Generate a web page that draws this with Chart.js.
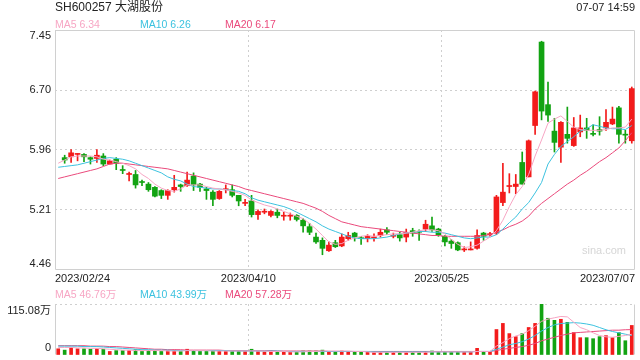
<!DOCTYPE html>
<html>
<head>
<meta charset="utf-8">
<title>SH600257 大湖股份</title>
<script src="https://cdn.jsdelivr.net/npm/chart.js@4.4.0/dist/chart.umd.min.js"></script>
<style>
  body { margin: 0; background: #fff; }
  #wrap { position: relative; width: 640px; height: 360px; overflow: hidden;
          font-family: "Liberation Sans", Arial, "Noto Sans CJK SC", sans-serif; }
  #wrap canvas { position: absolute; left: 0; }
  .txt { position: absolute; white-space: nowrap; line-height: 14px; }
  .leg { font-size: 10.5px; }
</style>
</head>
<body>
<div id="wrap">
  <canvas id="kline" width="640" height="290" style="top:0"></canvas>
  <canvas id="vol" width="640" height="70" style="top:290px"></canvas>

  <div class="txt" style="left:55px;top:0;font-size:12px;line-height:15px;color:#222">SH600257 大湖股份</div>
  <div class="txt" style="right:5px;top:0;font-size:11px;color:#222">07-07 14:59</div>

  <div class="txt leg" id="legMa5" style="left:55px;top:17px"></div>
  <div class="txt leg" id="legMa10" style="left:140px;top:17px"></div>
  <div class="txt leg" id="legMa20" style="left:225px;top:17px"></div>

  <div class="txt leg" id="legVol5" style="left:55px;top:287px"></div>
  <div class="txt leg" id="legVol10" style="left:140px;top:287px"></div>
  <div class="txt leg" id="legVol20" style="left:225px;top:287px"></div>

  <div class="txt" style="left:582px;top:243px;font-size:11px;color:#d6d6d6">sina.com</div>
</div>

<script>
// trading days shown on the chart
const dates = [
  '2023/02/24','2023/02/27','2023/02/28','2023/03/01','2023/03/02','2023/03/03',
  '2023/03/06','2023/03/07','2023/03/08','2023/03/09','2023/03/10',
  '2023/03/13','2023/03/14','2023/03/15','2023/03/16','2023/03/17',
  '2023/03/20','2023/03/21','2023/03/22','2023/03/23','2023/03/24',
  '2023/03/27','2023/03/28','2023/03/29','2023/03/30','2023/03/31',
  '2023/04/03','2023/04/04','2023/04/06','2023/04/07',
  '2023/04/10','2023/04/11','2023/04/12','2023/04/13','2023/04/14',
  '2023/04/17','2023/04/18','2023/04/19','2023/04/20','2023/04/21',
  '2023/04/24','2023/04/25','2023/04/26','2023/04/27','2023/04/28',
  '2023/05/04','2023/05/05',
  '2023/05/08','2023/05/09','2023/05/10','2023/05/11','2023/05/12',
  '2023/05/15','2023/05/16','2023/05/17','2023/05/18','2023/05/19',
  '2023/05/22','2023/05/23','2023/05/24','2023/05/25','2023/05/26',
  '2023/05/29','2023/05/30','2023/05/31','2023/06/01','2023/06/02',
  '2023/06/05','2023/06/06','2023/06/07','2023/06/08','2023/06/09',
  '2023/06/12','2023/06/13','2023/06/14','2023/06/15','2023/06/16',
  '2023/06/19','2023/06/20','2023/06/21',
  '2023/06/26','2023/06/27','2023/06/28','2023/06/29','2023/06/30',
  '2023/07/03','2023/07/04','2023/07/05','2023/07/06','2023/07/07'
];

// daily candles (first day is cut off in the original, so no candle there)
const openP = [null,5.86,5.87,5.90,5.90,5.86,5.85,5.88,5.78,5.84, 5.71,5.65,5.65,5.56,5.53,5.49,5.45,5.39,5.46,5.52,
  5.51,5.63,5.53,5.47,5.43,5.35,5.46,5.46,5.39,5.29, 5.32,5.15,5.18,5.14,5.18,5.13,5.13,5.14,5.08,5.00,
  4.87,4.83,4.70,4.80,4.76,4.85,4.92,4.86,4.85,4.86, 4.89,4.96,4.88,4.90,4.87,4.95,4.94,4.97,5.01,4.97,
  4.88,4.82,4.80,4.71,4.71,4.73,4.92,4.90,4.92,5.30, 5.50,5.50,5.80,5.62,6.26,7.30,6.52,6.19,5.99,6.15,
  6.01,6.18,6.23,6.16,6.21,6.23,6.28,6.48,6.15,6.07];
const highP = [null,5.89,5.96,5.91,5.91,5.87,5.96,5.91,5.83,5.86, 5.76,5.68,5.70,5.58,5.55,5.50,5.46,5.46,5.64,5.53,
  5.68,5.67,5.54,5.49,5.45,5.45,5.52,5.52,5.39,5.34, 5.39,5.21,5.22,5.20,5.22,5.18,5.17,5.15,5.10,5.04,
  4.92,4.86,4.81,4.83,4.91,4.93,4.93,4.88,4.90,4.91, 4.97,4.99,4.92,4.93,4.97,4.98,4.96,5.08,5.12,4.98,
  4.89,4.84,4.81,4.75,4.81,4.96,4.93,4.93,5.39,5.79, 5.66,5.65,5.93,6.08,6.69,7.31,6.80,6.35,6.31,6.49,
  6.36,6.39,6.35,6.27,6.37,6.46,6.49,6.50,6.20,6.74];
const lowP = [null,5.79,5.80,5.82,5.81,5.78,5.80,5.76,5.78,5.71, 5.66,5.57,5.48,5.51,5.44,5.37,5.35,5.34,5.43,5.44,
  5.50,5.45,5.44,5.34,5.26,5.34,5.42,5.37,5.26,5.26, 5.12,5.09,5.16,5.12,5.11,5.08,5.08,5.07,4.93,4.90,
  4.79,4.65,4.69,4.74,4.75,4.83,4.82,4.78,4.81,4.82, 4.87,4.90,4.86,4.82,4.81,4.88,4.83,4.94,4.94,4.88,
  4.76,4.73,4.70,4.69,4.71,4.72,4.83,4.88,4.90,5.26, 5.42,5.41,5.53,5.62,6.15,6.33,6.31,5.93,5.80,6.04,
  6.00,6.12,6.10,6.13,6.14,6.20,6.27,6.04,6.04,6.04];
const closeP = [null,5.83,5.92,5.90,5.87,5.84,5.89,5.78,5.82,5.79, 5.70,5.65,5.52,5.55,5.46,5.38,5.39,5.45,5.49,5.50,
  5.58,5.52,5.49,5.45,5.34,5.44,5.47,5.39,5.32,5.30, 5.15,5.19,5.18,5.19,5.14,5.14,5.14,5.09,5.01,4.93,
  4.81,4.73,4.77,4.75,4.87,4.89,4.87,4.85,4.88,4.87, 4.93,4.93,4.89,4.86,4.93,4.92,4.93,5.03,4.96,4.90,
  4.81,4.79,4.71,4.72,4.72,4.89,4.88,4.91,5.37,5.43, 5.51,5.53,5.53,6.07,6.68,6.44,6.39,6.05,6.30,6.10,
  6.23,6.23,6.20,6.15,6.19,6.30,6.34,6.15,6.14,6.72];

// price moving averages
const ma5 = [5.79,5.83,5.87,5.88,5.88,5.88,5.87,5.84,5.83,5.81, 5.79,5.76,5.72,5.65,5.60,5.53,5.48,5.45,5.44,5.47,
  5.52,5.52,5.52,5.50,5.48,5.47,5.46,5.44,5.42,5.39, 5.33,5.30,5.27,5.25,5.22,5.19,5.16,5.13,5.10,5.04,
  4.97,4.89,4.81,4.78,4.79,4.83,4.86,4.88,4.89,4.88, 4.89,4.90,4.91,4.91,4.92,4.93,4.95,4.96,4.96,4.95,
  4.91,4.84,4.78,4.74,4.75,4.77,4.82,4.87,4.95,5.08, 5.25,5.40,5.50,5.65,5.88,6.08,6.29,6.34,6.38,6.31,
  6.24,6.21,6.20,6.20,6.20,6.21,6.23,6.23,6.24,6.34];
const ma10 = [5.74,5.75,5.76,5.77,5.79,5.81,5.83,5.85,5.86,5.85, 5.84,5.82,5.79,5.76,5.73,5.70,5.67,5.62,5.59,5.57,
  5.53,5.50,5.49,5.48,5.47,5.47,5.46,5.45,5.44,5.41, 5.36,5.33,5.31,5.29,5.27,5.25,5.22,5.18,5.14,5.10,
  5.06,5.01,4.97,4.94,4.91,4.88,4.86,4.85,4.85,4.85, 4.86,4.87,4.89,4.91,4.92,4.93,4.94,4.94,4.93,4.93,
  4.92,4.90,4.88,4.86,4.85,4.86,4.87,4.87,4.90,4.97, 5.05,5.12,5.22,5.30,5.42,5.55,5.78,5.90,6.00,6.06,
  6.12,6.19,6.22,6.27,6.25,6.23,6.22,6.22,6.21,6.26];
const ma20 = [5.60,5.62,5.64,5.66,5.68,5.70,5.72,5.75,5.78,5.79, 5.79,5.78,5.77,5.76,5.75,5.74,5.73,5.72,5.70,5.68,
  5.66,5.64,5.62,5.60,5.58,5.56,5.54,5.52,5.50,5.47, 5.45,5.43,5.41,5.39,5.37,5.35,5.33,5.31,5.29,5.26,
  5.23,5.19,5.14,5.10,5.06,5.04,5.02,5.00,4.99,4.98, 4.97,4.96,4.95,4.94,4.93,4.92,4.91,4.90,4.89,4.89,
  4.88,4.88,4.88,4.88,4.88,4.88,4.89,4.90,4.93,4.96, 5.00,5.03,5.07,5.13,5.22,5.29,5.35,5.41,5.47,5.53,
  5.58,5.64,5.69,5.75,5.81,5.86,5.92,5.98,6.07,6.17];

// volume in 万 shares, plus its moving averages
const volume = [14,11,17,14,14,13,14,13,8,10, 10,10,12,8,10,10,8,10,11,8, 13,10,8,8,10,10,8,8,9,8,
  13,8,7,7,7,6,6,7,9,9, 9,11,8,7,9,7,7,6,6,6, 7,7,6,6,7,6,6,8,9,7,
  8,7,7,6,7,15,7,6,57.5,71.3, 48.3,41.4,48.3,62.1,71.3,115.08,82.9,78.3,80.6,73.7,
  50.6,39.1,39.1,36.8,41.4,43.7,39.1,50.6,32.2,66.7];
const volMa5 = [17,17,17,16,16,15,15,14,13,12, 11,11,10,10,10,10,10,9,9,9, 10,10,10,10,9,9,9,9,9,9,
  9,9,9,8,8,8,7,7,7,8, 8,9,9,9,9,9,8,8,7,6, 6,6,6,6,6,6,6,6,7,7,
  7,7,7,7,7,8,8,8,20,28, 37,43,47,55,65,76,81,84,87,86, 74,62,57,50,44,41,40,42,44,46.76];
const volMa10 = [20,20,20,20,19,19,19,18,17,16, 15,14,13,12,12,11,11,11,10,10, 10,10,10,10,10,10,10,9,9,9,
  9,9,9,9,9,8,8,8,8,8, 8,8,8,8,8,8,8,8,8,7, 7,7,7,7,7,7,7,7,7,7,
  7,7,7,7,7,8,8,8,13,18, 23,26,30,36,44,54,62,68,71,72, 73,72,70,67,62,57,53,50,47,43.99];
const volMa20 = [21,21,21,21,21,20,20,20,19,19, 18,17,16,15,14,13,13,12,12,12, 11,11,11,11,11,11,10,10,10,10,
  10,10,10,10,9,9,9,9,9,9, 9,9,8,8,8,8,8,8,8,8, 8,8,8,8,8,8,8,8,8,8,
  8,8,8,8,8,8,8,8,10,13, 15,17,19,22,26,32,36,40,44,47, 50,51,52,53,54,55,56,56,57,57.28];

// axis ticks
const priceTicks = [4.46, 5.21, 5.96, 6.70, 7.45];
const priceTickLabels = ['4.46', '5.21', '5.96', '6.70', '7.45'];
const volTicks = [0, 115.08];
const volTickLabels = ['0', '115.08万'];
const xLabelIdx = [0, 30, 60, 89];

const UP = '#f31b1b', DOWN = '#12a312';
const MA_COLORS = ['#f7a6c4', '#3cc2df', '#ea4a7c'];
const GRID = '#cfcfcf', FRAME = '#d0d0d0';
const FONT = '"Liberation Sans", Arial, "Noto Sans CJK SC", sans-serif';

function isUp(i) {
    return openP[i] === null || closeP[i] >= openP[i];
}

// the top / bottom axis labels sit a few pixels inside the panel
function insetTicks(values, inset) {
    const lo = values[0], hi = values[values.length - 1];
    return values.map(v => ({ value: Math.min(Math.max(v, lo + inset), hi - inset) }));
}

// solid box around the plot area, sides picked per chart
const framePlugin = {
    id: 'frame',
    beforeDatasetsDraw(chart, args, opts) {
        const { ctx, chartArea: a } = chart;
        const l = Math.round(a.left) + 0.5, r = Math.round(a.right) - 0.5;
        const t = Math.round(a.top) + 0.5, b = Math.round(a.bottom) - 0.5;
        ctx.save();
        ctx.strokeStyle = FRAME;
        ctx.lineWidth = 1;
        ctx.beginPath();
        if (opts.top) { ctx.moveTo(l, t); ctx.lineTo(r, t); }
        if (opts.bottom) { ctx.moveTo(l, b); ctx.lineTo(r, b); }
        if (opts.left) { ctx.moveTo(l, t); ctx.lineTo(l, b); }
        if (opts.right) { ctx.moveTo(r, t); ctx.lineTo(r, b); }
        ctx.stroke();
        ctx.restore();
    }
};

function xScale(showLabels) {
    const last = xLabelIdx.length - 1;
    return {
        type: 'linear',
        min: -0.5,
        max: dates.length - 0.5,
        offset: false,
        afterBuildTicks: s => {
            s.ticks = xLabelIdx.map((d, k) => ({ value: k === last ? d + 0.5 : d - 0.5 }));
        },
        afterFit: s => { s.height = showLabels ? 20 : 0; s.paddingLeft = 0; s.paddingRight = 0; },
        grid: {
            offset: false,
            drawTicks: false,
            color: c => (c.index === 0 || c.index === last) ? 'rgba(0,0,0,0)' : GRID
        },
        border: { display: false, dash: [2, 3] },
        ticks: {
            display: showLabels,
            autoSkip: false,
            maxRotation: 0,
            align: 'inner',
            padding: 2,
            color: '#222',
            font: { size: 11, family: FONT },
            callback: (v, k) => dates[xLabelIdx[k]]
        }
    };
}

function yGridScale(values) {
    return {
        type: 'linear',
        position: 'left',
        min: values[0],
        max: values[values.length - 1],
        afterBuildTicks: s => { s.ticks = values.map(v => ({ value: v })); },
        afterFit: s => { s.width = 0; s.paddingTop = 0; s.paddingBottom = 0; },
        grid: { drawTicks: false, color: c => c.index === 0 ? 'rgba(0,0,0,0)' : GRID },
        border: { display: false, dash: [2, 3] },
        ticks: { display: false }
    };
}

function yLabelScale(values, labels, inset) {
    return {
        type: 'linear',
        position: 'left',
        weight: 1,
        min: values[0],
        max: values[values.length - 1],
        afterBuildTicks: s => { s.ticks = insetTicks(values, inset); },
        afterFit: s => { s.width = 55; s.paddingTop = 0; s.paddingBottom = 0; },
        grid: { display: false, drawTicks: false },
        border: { display: false },
        ticks: {
            autoSkip: false,
            padding: 4,
            color: '#222',
            font: { size: 11, family: FONT },
            callback: (v, k) => labels[k]
        }
    };
}

function maLine(values, color) {
    return {
        type: 'line',
        data: values.map((v, i) => ({ x: i, y: v })),
        borderColor: color,
        borderWidth: 1,
        pointRadius: 0,
        fill: false,
        order: 0,
        xAxisID: 'x',
        yAxisID: 'y'
    };
}

function baseOptions(padding, frame, scales) {
    return {
        responsive: false,
        animation: false,
        devicePixelRatio: 1,
        events: [],
        layout: { padding: padding },
        plugins: { legend: { display: false }, tooltip: { enabled: false }, frame: frame },
        scales: scales
    };
}

function drawPriceChart() {
    const bodyData = [], bodyColors = [], wickData = [], wickColors = [];
    for (let i = 0; i < dates.length; i++) {
        if (openP[i] === null) continue;
        const col = isUp(i) ? UP : DOWN;
        bodyData.push({ x: i, y: [openP[i], closeP[i]] });
        bodyColors.push(col);
        wickData.push({ x: i, y: [lowP[i], highP[i]] });
        wickColors.push(col);
    }

    new Chart(document.getElementById('kline'), {
        type: 'bar',
        data: {
            datasets: [
                maLine(ma5, MA_COLORS[0]),
                maLine(ma10, MA_COLORS[1]),
                maLine(ma20, MA_COLORS[2]),
                { data: bodyData, backgroundColor: bodyColors, barThickness: 5, minBarLength: 1,
                  grouped: false, order: 2, xAxisID: 'x', yAxisID: 'y' },
                { data: wickData, backgroundColor: wickColors, barThickness: 1,
                  grouped: false, order: 3, xAxisID: 'x', yAxisID: 'y' }
            ]
        },
        options: baseOptions(
            { left: 0, right: 5, top: 30, bottom: 0 },
            { top: true, bottom: true, left: true, right: true },
            { x: xScale(true), y: yGridScale(priceTicks), yl: yLabelScale(priceTicks, priceTickLabels, 0.07) }
        ),
        plugins: [framePlugin]
    });
}

function drawVolumeChart() {
    new Chart(document.getElementById('vol'), {
        type: 'bar',
        data: {
            datasets: [
                maLine(volMa5, MA_COLORS[0]),
                maLine(volMa10, MA_COLORS[1]),
                maLine(volMa20, MA_COLORS[2]),
                { data: volume.map((v, i) => ({ x: i, y: v })),
                  backgroundColor: volume.map((v, i) => isUp(i) ? UP : DOWN),
                  barThickness: 3, grouped: false, order: 2, xAxisID: 'x', yAxisID: 'y' }
            ]
        },
        options: baseOptions(
            { left: 0, right: 5, top: 14, bottom: 5 },
            { left: true, right: true },
            { x: xScale(false), y: yGridScale(volTicks), yl: yLabelScale(volTicks, volTickLabels, 16) }
        ),
        plugins: [framePlugin]
    });
}

// legend rows take the last moving-average values
function fillLegends() {
    const last = dates.length - 1;
    const set = (id, text, color) => {
        const el = document.getElementById(id);
        el.textContent = text;
        el.style.color = color;
    };
    set('legMa5', `MA5 ${ma5[last].toFixed(2)}`, MA_COLORS[0]);
    set('legMa10', `MA10 ${ma10[last].toFixed(2)}`, MA_COLORS[1]);
    set('legMa20', `MA20 ${ma20[last].toFixed(2)}`, MA_COLORS[2]);
    set('legVol5', `MA5 ${volMa5[last].toFixed(2)}万`, MA_COLORS[0]);
    set('legVol10', `MA10 ${volMa10[last].toFixed(2)}万`, MA_COLORS[1]);
    set('legVol20', `MA20 ${volMa20[last].toFixed(2)}万`, MA_COLORS[2]);
}

fillLegends();
drawPriceChart();
drawVolumeChart();
</script>
</body>
</html>
